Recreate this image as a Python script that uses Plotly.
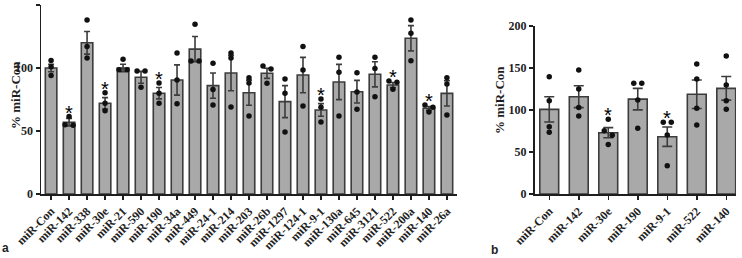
import plotly.graph_objects as go

# ---------------- data: panel a ----------------
cats_a = ["miR-Con", "miR-142", "miR-338", "miR-30e", "miR-21", "miR-590", "miR-190",
          "miR-34a", "miR-449", "miR-24-1", "miR-214", "miR-203", "miR-26b", "miR-1297",
          "miR-124-1", "miR-9-1", "miR-130a", "miR-645", "miR-3121", "miR-522",
          "miR-200a", "miR-140", "miR-26a"]
mean_a = [100, 57, 120, 72, 100, 92.6, 80, 90.5, 115, 86, 96, 80.4, 95.8, 73.3,
          94.4, 66.7, 88.9, 81.2, 95, 86.5, 123.6, 68, 79.9]
sem_a = [3, 3, 9, 4.5, 3, 4.7, 4.5, 12, 10, 10, 14, 10, 4, 12.7,
         14, 5, 14, 9, 10, 2, 10, 1.5, 10]
dots_a = [[106, 101, 94], [61.5, 55, 54.5], [138, 117, 108], [80.4, 72, 66],
          [107, 98.7, 98.7], [97.6, 97.6, 84.7], [88, 80, 72], [112, 90.5, 71.7],
          [134.7, 105.6, 105.6], [103.7, 83, 70.6], [112, 108, 69], [92.3, 88, 62],
          [101.6, 99.2, 87.9], [91.3, 80, 49.2], [117, 98.4, 69.8], [75.4, 68.8, 57.1],
          [108.5, 96.6, 62], [96.3, 81, 67.2], [108.5, 99.7, 77.2], [89.7, 88.6, 83.1],
          [138, 127.5, 105.8], [70.6, 68.8, 65], [92.3, 87.3, 62.7]]
sig_a = ["miR-142", "miR-30e", "miR-190", "miR-9-1", "miR-522", "miR-140"]
yticks_a = [0, 50, 100, 150]

# ---------------- data: panel b ----------------
cats_b = ["miR-Con", "miR-142", "miR-30e", "miR-190", "miR-9-1", "miR-522", "miR-140"]
mean_b = [100.8, 115.8, 73, 113, 68.2, 118.7, 125.8]
sem_b = [15, 13, 6, 12.8, 11.5, 17, 14]
dots_b = [[139.6, 111, 80, 73.4], [147.6, 125, 103, 92.9], [89, 75.4, 70, 59],
          [131.8, 131.8, 112, 78.2], [85.3, 85.3, 70.2, 33.7], [154.8, 137, 102, 82],
          [164.3, 129.8, 111, 100.8]]
sig_b = ["miR-30e", "miR-9-1"]
yticks_b = [0, 50, 100, 150, 200]

# ---------------- styling ----------------
W, H = 742, 258
MT, MB = 5, 64
PH = H - MT - MB  # plot height in px
BASE_Y = H - MB   # pixel row of the x axes
BAR_FILL = "#a9a9a9"
EDGE = "#3c3c3c"
INK = "#1e1e1e"
SERIF = "Liberation Serif, Times New Roman, serif"
SANS = "Liberation Sans, Arial, sans-serif"

xa_dom = [41 / W, 457 / W]
xa_rng = [-0.56, 22.56]
xb_dom = [534.5 / W, 736 / W]
xb_rng = [-0.5, 6.33]
ya_rng = [0, 150]
yb_dom = [0, (BASE_Y - 26) / PH]
yb_rng = [0, 200]


def px_per_unit(dom, rng, total):
    return (dom[1] - dom[0]) * total / (rng[1] - rng[0])


def paper_x(px):
    return px / W


def paper_y(py):
    return (BASE_Y - py) / PH


def spread(vals, ppu_y, ppu_x, thresh=5.0, sep=8.0):
    """horizontal offsets so that overlapping dots sit side by side"""
    offs = [0.0] * len(vals)
    used = [False] * len(vals)
    for i in range(len(vals)):
        if used[i]:
            continue
        grp = [i]
        for j in range(i + 1, len(vals)):
            if not used[j] and abs(vals[j] - vals[i]) * ppu_y < thresh:
                grp.append(j)
        if len(grp) > 1:
            n = len(grp)
            for k, idx in enumerate(grp):
                offs[idx] = (k - (n - 1) / 2) * sep / ppu_x
                used[idx] = True
    return offs


fig = go.Figure()


def add_panel(cats, means, sems, dots, sig, xref, yref, xdom, xrng, ydom, yrng, capw):
    xs = list(range(len(cats)))
    fig.add_trace(go.Bar(
        x=xs, y=means, width=0.64, xaxis=xref, yaxis=yref,
        marker=dict(color=BAR_FILL, line=dict(color=EDGE, width=1.6)),
        error_y=dict(type="data", array=sems, visible=True, color=EDGE,
                     thickness=1.6, width=capw),
        showlegend=False, hoverinfo="skip"))
    ppx = px_per_unit(xdom, xrng, W)
    ppy = px_per_unit(ydom, yrng, PH)
    dx, dy = [], []
    for i, d in enumerate(dots):
        offs = spread(d, ppy, ppx)
        for v, o in zip(d, offs):
            dx.append(i + o)
            dy.append(v)
    fig.add_trace(go.Scatter(
        x=dx, y=dy, mode="markers", xaxis=xref, yaxis=yref,
        marker=dict(color="#111111", size=5.5),
        showlegend=False, hoverinfo="skip"))
    for c in sig:
        i = cats.index(c)
        fig.add_annotation(x=i, y=max(dots[i]), xref=xref, yref=yref,
                           text="*", showarrow=False, yanchor="middle",
                           yshift=4,
                           font=dict(family=SANS, size=20, color="#000000"))


add_panel(cats_a, mean_a, sem_a, dots_a, sig_a, "x", "y", xa_dom, xa_rng, [0, 1], ya_rng, 3)
add_panel(cats_b, mean_b, sem_b, dots_b, sig_b, "x2", "y2", xb_dom, xb_rng, yb_dom, yb_rng, 5)

axis_common = dict(showline=True, linecolor=INK, linewidth=1.5, ticks="outside",
                   ticklen=4, tickwidth=1.5, tickcolor=INK, showgrid=False,
                   zeroline=False, fixedrange=True, automargin=False)
tickfont = dict(family=SERIF, size=12, color=INK, weight="bold")

fig.update_layout(
    template="none",
    width=W, height=H,
    margin=dict(l=0, r=0, t=MT, b=MB, autoexpand=False),
    plot_bgcolor="white", paper_bgcolor="white",
    bargap=0,
    hovermode=False,
    xaxis=dict(domain=xa_dom, range=xa_rng, tickvals=list(range(len(cats_a))),
               ticktext=cats_a, tickangle=-45, tickfont=tickfont, anchor="y",
               **axis_common),
    yaxis=dict(domain=[0, 1], range=ya_rng, tickvals=yticks_a, tickfont=tickfont,
               anchor="x", **axis_common),
    xaxis2=dict(domain=xb_dom, range=xb_rng, tickvals=list(range(len(cats_b))),
                ticktext=cats_b, tickangle=-45, tickfont=tickfont, anchor="y2",
                **axis_common),
    yaxis2=dict(domain=yb_dom, range=yb_rng, tickvals=yticks_b, tickfont=tickfont,
                anchor="x2", **axis_common),
)

# axis titles and panel letters
title_font = dict(family=SERIF, size=13, color=INK, weight="bold")
fig.add_annotation(text="% miR-Con", x=paper_x(15), y=paper_y(95), xref="paper", yref="paper",
                   textangle=-90, showarrow=False, font=title_font,
                   xanchor="center", yanchor="middle")
fig.add_annotation(text="% miR-Con", x=paper_x(499), y=paper_y(100), xref="paper", yref="paper",
                   textangle=-90, showarrow=False, font=title_font,
                   xanchor="center", yanchor="middle")
letter_font = dict(family=SANS, size=12, color=INK, weight="bold")
fig.add_annotation(text="a", x=paper_x(0), y=paper_y(248), xref="paper", yref="paper",
                   showarrow=False, font=letter_font, xanchor="left", yanchor="middle")
fig.add_annotation(text="b", x=paper_x(489), y=paper_y(250), xref="paper", yref="paper",
                   showarrow=False, font=letter_font, xanchor="left", yanchor="middle")

# remove the default page margin so the figure sits at the window's corner
fig.write_html("out.html", config={"displayModeBar": False, "staticPlot": True},
               post_script="document.body.style.margin='0px';")
